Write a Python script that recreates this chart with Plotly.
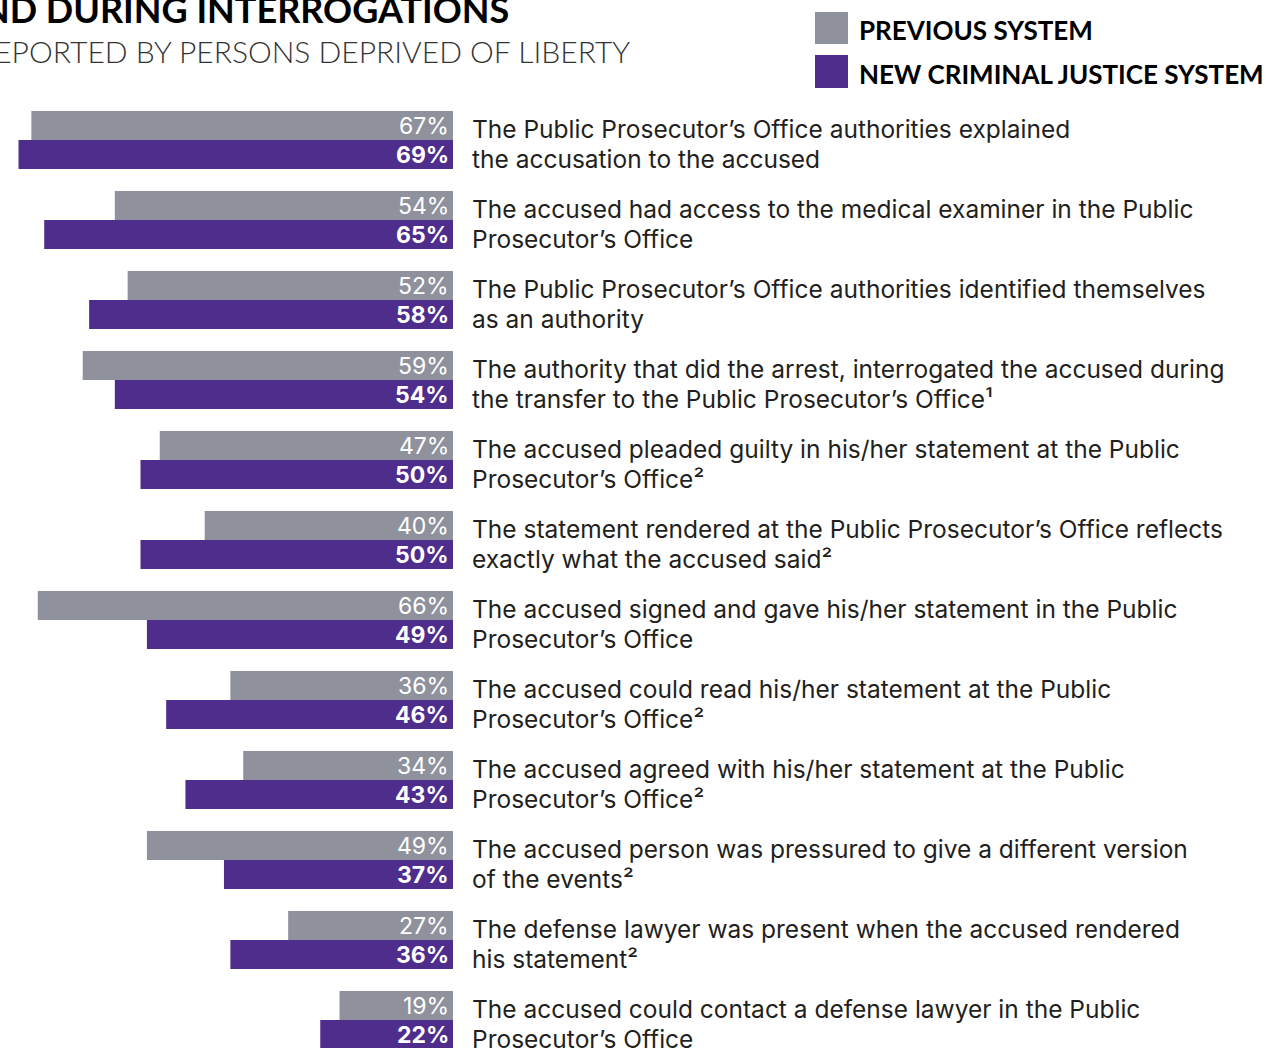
import plotly.graph_objects as go

# Survey items, top to bottom (line breaks marked with <br>)
items = [
    "The Public Prosecutor’s Office authorities explained<br>the accusation to the accused",
    "The accused had access to the medical examiner in the Public<br>Prosecutor’s Office",
    "The Public Prosecutor’s Office authorities identified themselves<br>as an authority",
    "The authority that did the arrest, interrogated the accused during<br>the transfer to the Public Prosecutor’s Office¹",
    "The accused pleaded guilty in his/her statement at the Public<br>Prosecutor’s Office²",
    "The statement rendered at the Public Prosecutor’s Office reflects<br>exactly what the accused said²",
    "The accused signed and gave his/her statement in the Public<br>Prosecutor’s Office",
    "The accused could read his/her statement at the Public<br>Prosecutor’s Office²",
    "The accused agreed with his/her statement at the Public<br>Prosecutor’s Office²",
    "The accused person was pressured to give a different version<br>of the events²",
    "The defense lawyer was present when the accused rendered<br>his statement²",
    "The accused could contact a defense lawyer in the Public<br>Prosecutor’s Office",
]
previous_system = [67, 54, 52, 59, 47, 40, 66, 36, 34, 49, 27, 19]
new_system = [69, 65, 58, 54, 50, 50, 49, 46, 43, 37, 36, 22]

series_names = ["PREVIOUS SYSTEM", "NEW CRIMINAL JUSTICE SYSTEM"]

GRAY = "#8f929c"
PURPLE = "#4e2d8c"
HEAD_FONT = "Lato"
BODY_FONT = "Inter"

W, H = 1267, 1048
PLOT_RIGHT = 453          # right edge of the bar area, in pixels
ZERO_PX = 461.5           # where 0 % falls (just past the visible baseline)
PX_PER_PCT = 6.42
BAR_HALF = 0.18125        # half of one bar's thickness in category units
LINE_GAP = 30             # pixel distance between the two lines of a description

positions = list(range(len(items)))

fig = go.Figure()
for vals, color, name in [(previous_system, GRAY, series_names[0]),
                          (new_system, PURPLE, series_names[1])]:
    fig.add_trace(go.Bar(
        y=positions, x=vals, orientation="h", name=name,
        marker=dict(color=color, line=dict(width=0)),
        showlegend=False, hoverinfo="skip",
    ))

annotations = []
# Percent labels inside the bar ends
for pos, pv, nv in zip(positions, previous_system, new_system):
    annotations.append(dict(
        x=1, y=pos - BAR_HALF, xref="paper", yref="y", xanchor="right",
        yanchor="middle", xshift=-2, text=f"{pv}%", showarrow=False,
        font=dict(family=BODY_FONT, size=23, color="white"),
    ))
    annotations.append(dict(
        x=1, y=pos + BAR_HALF, xref="paper", yref="y", xanchor="right",
        yanchor="middle", xshift=-2, text=f"<b>{nv}%</b>", showarrow=False,
        font=dict(family=BODY_FONT, size=23, color="white"),
    ))

# Item descriptions to the right of the bars, one annotation per line
for pos, txt in zip(positions, items):
    for k, line in enumerate(txt.split("<br>")):
        annotations.append(dict(
            x=1, y=pos, xref="paper", yref="y", xanchor="left", yanchor="middle",
            xshift=17, yshift=11 - k * LINE_GAP, text=line, showarrow=False,
            align="left", font=dict(family=BODY_FONT, size=24.5, color="#231f20"),
        ))

# Heading lines (left part runs off the page)
annotations.append(dict(
    x=511 / PLOT_RIGHT, y=1 - 9 / H, xref="paper", yref="paper",
    xanchor="right", yanchor="middle", text="<b>AND DURING INTERROGATIONS</b>",
    showarrow=False, font=dict(family=HEAD_FONT, size=36, color="#000000", weight=900),
))
annotations.append(dict(
    x=632 / PLOT_RIGHT, y=1 - 51 / H, xref="paper", yref="paper",
    xanchor="right", yanchor="middle", text="REPORTED BY PERSONS DEPRIVED OF LIBERTY",
    showarrow=False, font=dict(family=HEAD_FONT, size=30, color="#333333", weight=300),
))

# Custom legend
shapes = []
legend_rows = [(series_names[0], GRAY, 12, 44), (series_names[1], PURPLE, 55, 88)]
for name, color, y0, y1 in legend_rows:
    shapes.append(dict(
        type="rect", xref="paper", yref="paper",
        x0=815 / PLOT_RIGHT, x1=848 / PLOT_RIGHT, y0=1 - y1 / H, y1=1 - y0 / H,
        fillcolor=color, line=dict(width=0),
    ))
    annotations.append(dict(
        x=857 / PLOT_RIGHT, y=1 - ((y0 + y1) / 2 + 2) / H, xref="paper", yref="paper",
        xanchor="left", yanchor="middle", text=f"<b>{name}</b>", showarrow=False,
        font=dict(family=HEAD_FONT, size=26, color="#000000", weight=900),
    ))

fig.update_layout(
    width=W, height=H,
    margin=dict(l=0, r=W - PLOT_RIGHT, t=0, b=0),
    paper_bgcolor="white", plot_bgcolor="white",
    barmode="group", bargap=0.275, bargroupgap=0,
    xaxis=dict(range=[ZERO_PX / PX_PER_PCT, (ZERO_PX - PLOT_RIGHT) / PX_PER_PCT],
               visible=False, fixedrange=True),
    yaxis=dict(range=[(H - 140) / 80, -140 / 80], visible=False, fixedrange=True),
    annotations=annotations, shapes=shapes,
)

fig.write_html("out.html")
